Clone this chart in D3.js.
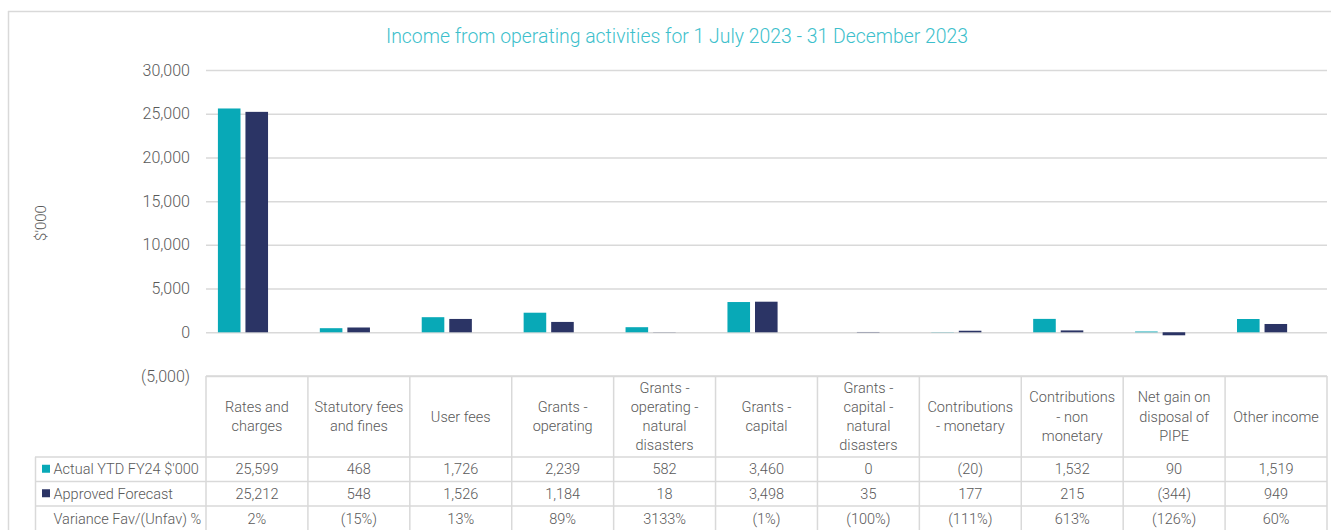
<!DOCTYPE html>
<html><head><meta charset="utf-8">
<script src="https://cdn.jsdelivr.net/npm/d3@7"></script>
<style>
html,body{margin:0;padding:0;background:#fff;}
svg{display:block;font-family:Roboto,"Noto Sans",sans-serif;font-weight:300;}
</style></head>
<body><svg id="c" width="1331" height="530"></svg>
<script>
const title = "Income from operating activities for 1 July 2023 - 31 December 2023";
const yTitle = "$'000";
const categories = [
  "Rates and\ncharges", "Statutory fees\nand fines", "User fees", "Grants -\noperating",
  "Grants -\noperating -\nnatural\ndisasters", "Grants -\ncapital", "Grants -\ncapital -\nnatural\ndisasters",
  "Contributions\n- monetary", "Contributions\n- non\nmonetary", "Net gain on\ndisposal of\nPIPE", "Other income"
];
const seriesNames = ["Actual YTD FY24 $'000", "Approved Forecast"];
const actual =   [25599, 468, 1726, 2239, 582, 3460, 0, -20, 1532, 90, 1519];
const forecast = [25212, 548, 1526, 1184, 18, 3498, 35, 177, 215, -344, 949];
const varianceLabel = "Variance Fav/(Unfav) %";
const variance = ["2%", "(15%)", "13%", "89%", "3133%", "(1%)", "(100%)", "(111%)", "613%", "(126%)", "60%"];
const yTicks = [-5000, 0, 5000, 10000, 15000, 20000, 25000, 30000];
const colors = ["#08a9b7", "#2b3465"];

const svg = d3.select("#c");
const grid = "#d9d9d9", txt = "#595959";
const L = 206, R = 1327, T = 70, B = 376;

// outer frame
svg.append("line").attr("x1",8).attr("x2",1331).attr("y1",11.5).attr("y2",11.5).attr("stroke",grid).attr("stroke-width",1.5);
svg.append("line").attr("x1",8.5).attr("x2",8.5).attr("y1",11).attr("y2",530).attr("stroke",grid).attr("stroke-width",1.5);

const y = d3.scaleLinear().domain([-5000, 30000]).range([B, T]);
const x = d3.scaleBand().domain(categories).range([L, R]);
const xi = d3.scaleBand().domain([0,1]).range([0, x.bandwidth()]).paddingInner(0.18).paddingOuter(0.94).align(0.23);

const fmt = v => v < 0 ? "(" + d3.format(",")(-v) + ")" : d3.format(",")(v);

// gridlines + tick labels via axis
const yAxis = d3.axisLeft(y).tickValues(yTicks).tickFormat(fmt).tickSize(-(R-L)).tickPadding(16);
const ga = svg.append("g").attr("transform",`translate(${L},0)`).call(yAxis);
ga.select(".domain").remove();
ga.selectAll(".tick line").attr("stroke",grid).attr("stroke-width",1.5);
ga.selectAll(".tick text").attr("fill",txt).style("font-size","16px").style("font-family","Roboto").style("font-weight","300");

// y title
svg.append("text").attr("transform","translate(46,223) rotate(-90)").attr("text-anchor","middle")
  .attr("fill",txt).style("font-size","15px").text(yTitle);

// title
svg.append("text").attr("x",677).attr("y",43).attr("text-anchor","middle").attr("fill","#3dbfcc")
  .style("font-size","19.4px").text(title);

// bars
const series = [actual, forecast];
series.forEach((vals, si) => {
  svg.append("g").selectAll("rect").data(vals).join("rect")
    .attr("x",(d,i)=>x(categories[i]) + xi(si))
    .attr("width", xi.bandwidth())
    .attr("y", d => y(Math.max(0,d)))
    .attr("height", d => Math.abs(y(d) - y(0)))
    .attr("fill", colors[si]);
});

// table
const hdrTop = B, hdrBot = 457;
const rowEdges = [457, 481.5, 506, 531];
const tg = svg.append("g");
tg.append("line").attr("x1",L).attr("x2",R).attr("y1",hdrTop).attr("y2",hdrTop).attr("stroke",grid).attr("stroke-width",1.5);
rowEdges.forEach(yy => tg.append("line").attr("x1",35).attr("x2",R).attr("y1",yy).attr("y2",yy).attr("stroke",grid).attr("stroke-width",1.5));
const vx = categories.map(c => x(c)).concat([R]);
vx.forEach(xx => tg.append("line").attr("x1",xx).attr("x2",xx).attr("y1",hdrTop).attr("y2",531).attr("stroke",grid).attr("stroke-width",1.5));
tg.append("line").attr("x1",35.5).attr("x2",35.5).attr("y1",457).attr("y2",531).attr("stroke",grid).attr("stroke-width",1.5);

const fs = "14.5px";
const lh = 19.3;
categories.forEach(c => {
  const lines = c.split("\n");
  const cx = x(c) + x.bandwidth()/2;
  const cy = (hdrTop + hdrBot)/2;
  const t = tg.append("text").attr("text-anchor","middle").attr("fill",txt).style("font-size",fs);
  lines.forEach((ln, k) => {
    t.append("tspan").attr("x",cx).attr("y", cy + (k - (lines.length-1)/2)*lh + 5).text(ln);
  });
});

const rows = [
  {label: seriesNames[0], color: colors[0], vals: actual.map(fmt)},
  {label: seriesNames[1], color: colors[1], vals: forecast.map(fmt)},
  {label: varianceLabel, color: null, vals: variance}
];
rows.forEach((r, ri) => {
  const cy = (rowEdges[ri] + rowEdges[ri+1])/2;
  if (r.color) tg.append("rect").attr("x",42).attr("y",cy-4.5).attr("width",8).attr("height",8).attr("fill",r.color);
  tg.append("text").attr("x",53.5).attr("y",cy+5).attr("fill",txt).style("font-size",fs).text(r.label);
  r.vals.forEach((v, i) => {
    tg.append("text").attr("x", x(categories[i]) + x.bandwidth()/2).attr("y", cy+5)
      .attr("text-anchor","middle").attr("fill",txt).style("font-size",fs).text(v);
  });
});
</script></body></html>
